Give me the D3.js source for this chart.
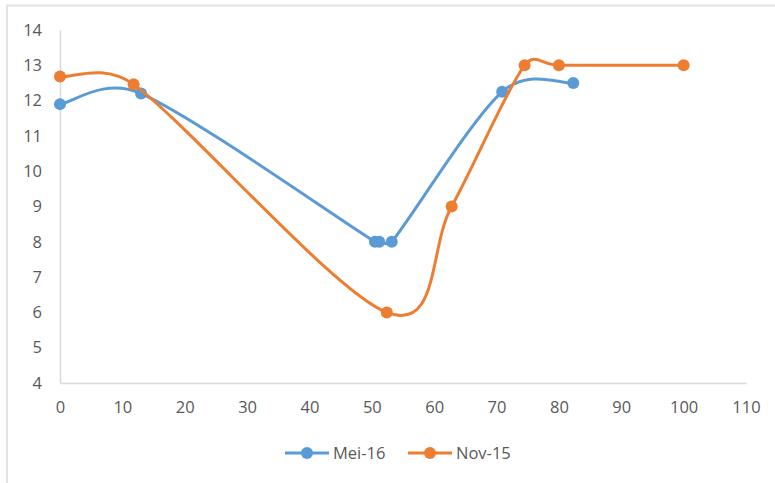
<!DOCTYPE html>
<html>
<head>
<meta charset="utf-8">
<script src="https://cdn.jsdelivr.net/npm/d3@7"></script>
<style>
  html, body { margin: 0; padding: 0; background: #fff; }
  svg { display: block; }
  svg text { font-family: "Open Sans", "Liberation Sans", sans-serif; }
</style>
</head>
<body>
<svg id="chart" width="775" height="483"></svg>
<script>
// Series values: [x, y] pairs
const mei16 = [[0, 11.9], [13, 12.2], [50.5, 8], [51.2, 8], [53.2, 8], [70.9, 12.25], [82.3, 12.5]];
const nov15 = [[0, 12.68], [11.8, 12.46], [52.4, 6], [62.8, 9], [74.5, 13], [80, 13], [100, 13]];
const seriesNames = ["Mei-16", "Nov-15"];
const seriesColors = ["#5B9BD5", "#ED7D31"];
const xTicks = [0, 10, 20, 30, 40, 50, 60, 70, 80, 90, 100, 110];
const yTicks = [4, 5, 6, 7, 8, 9, 10, 11, 12, 13, 14];

const svg = d3.select("#chart");

// chart area frame
svg.append("rect")
  .attr("x", 7).attr("y", 5.5)
  .attr("width", 800).attr("height", 500)
  .attr("fill", "none")
  .attr("stroke", "#e3e3e3")
  .attr("stroke-width", 2);

const x = d3.scaleLinear().domain([0, 110]).range([60, 746]);
const y = d3.scaleLinear().domain([4, 14]).range([383, 30]);

const axisColor = "#d9d9d9";
const labelColor = "#595959";
const fontFamily = '"Open Sans", "Liberation Sans", sans-serif';
const fontSize = 16.5;

// axes
const xAxis = svg.append("g").attr("transform", `translate(0,${y(4)})`)
  .call(d3.axisBottom(x).tickValues(xTicks).tickSize(0).tickPadding(18).tickFormat(d3.format("d")));
const yAxis = svg.append("g").attr("transform", `translate(${x(0)},0)`)
  .call(d3.axisLeft(y).tickValues(yTicks).tickSize(0).tickPadding(18).tickFormat(d3.format("d")));

[xAxis, yAxis].forEach(g => {
  g.attr("font-family", fontFamily).attr("font-size", fontSize);
  g.select(".domain").attr("stroke", axisColor).attr("stroke-width", 1.5);
  g.selectAll("text").attr("fill", labelColor);
});

// Smoothed curve: cubic Bezier segments with tangents (next - prev) / 6,
// each handle capped at half the length of its segment.
function smoothPath(pts) {
  const p = d3.path();
  if (!pts.length) return "";
  p.moveTo(pts[0][0], pts[0][1]);
  const dist = (a, b) => Math.hypot(b[0] - a[0], b[1] - a[1]);
  for (let i = 0; i < pts.length - 1; i++) {
    const p0 = pts[i - 1] || pts[i];
    const p1 = pts[i];
    const p2 = pts[i + 1];
    const p3 = pts[i + 2] || pts[i + 1];
    const d12 = dist(p1, p2), d02 = dist(p0, p2), d13 = dist(p1, p3);
    let f1 = 1 / 6, f2 = 1 / 6;
    if (d02 > 0 && d02 / 6 > d12 / 2) f1 = (d12 / 2) / d02;
    if (d13 > 0 && d13 / 6 > d12 / 2) f2 = (d12 / 2) / d13;
    const c1 = [p1[0] + f1 * (p2[0] - p0[0]), p1[1] + f1 * (p2[1] - p0[1])];
    const c2 = [p2[0] - f2 * (p3[0] - p1[0]), p2[1] - f2 * (p3[1] - p1[1])];
    p.bezierCurveTo(c1[0], c1[1], c2[0], c2[1], p2[0], p2[1]);
  }
  return p.toString();
}

[mei16, nov15].forEach((data, i) => {
  const g = svg.append("g");
  g.append("path")
    .datum(data)
    .attr("d", d => smoothPath(d.map(v => [x(v[0]), y(v[1])])))
    .attr("fill", "none")
    .attr("stroke", seriesColors[i])
    .attr("stroke-width", 3)
    .attr("stroke-linecap", "round");
  g.selectAll("circle")
    .data(data)
    .join("circle")
    .attr("cx", d => x(d[0]))
    .attr("cy", d => y(d[1]))
    .attr("r", 6)
    .attr("fill", seriesColors[i]);
});

// legend
const legendItems = [
  { name: seriesNames[0], color: seriesColors[0], x0: 285 },
  { name: seriesNames[1], color: seriesColors[1], x0: 408 }
];
const legendY = 453;
legendItems.forEach(item => {
  const g = svg.append("g");
  g.append("line")
    .attr("x1", item.x0).attr("x2", item.x0 + 44)
    .attr("y1", legendY).attr("y2", legendY)
    .attr("stroke", item.color).attr("stroke-width", 3);
  g.append("circle")
    .attr("cx", item.x0 + 22).attr("cy", legendY).attr("r", 6)
    .attr("fill", item.color);
  g.append("text")
    .attr("x", item.x0 + 48).attr("y", legendY)
    .attr("dy", "0.35em")
    .attr("fill", labelColor)
    .attr("font-size", fontSize)
    .text(item.name);
});
</script>
</body>
</html>
